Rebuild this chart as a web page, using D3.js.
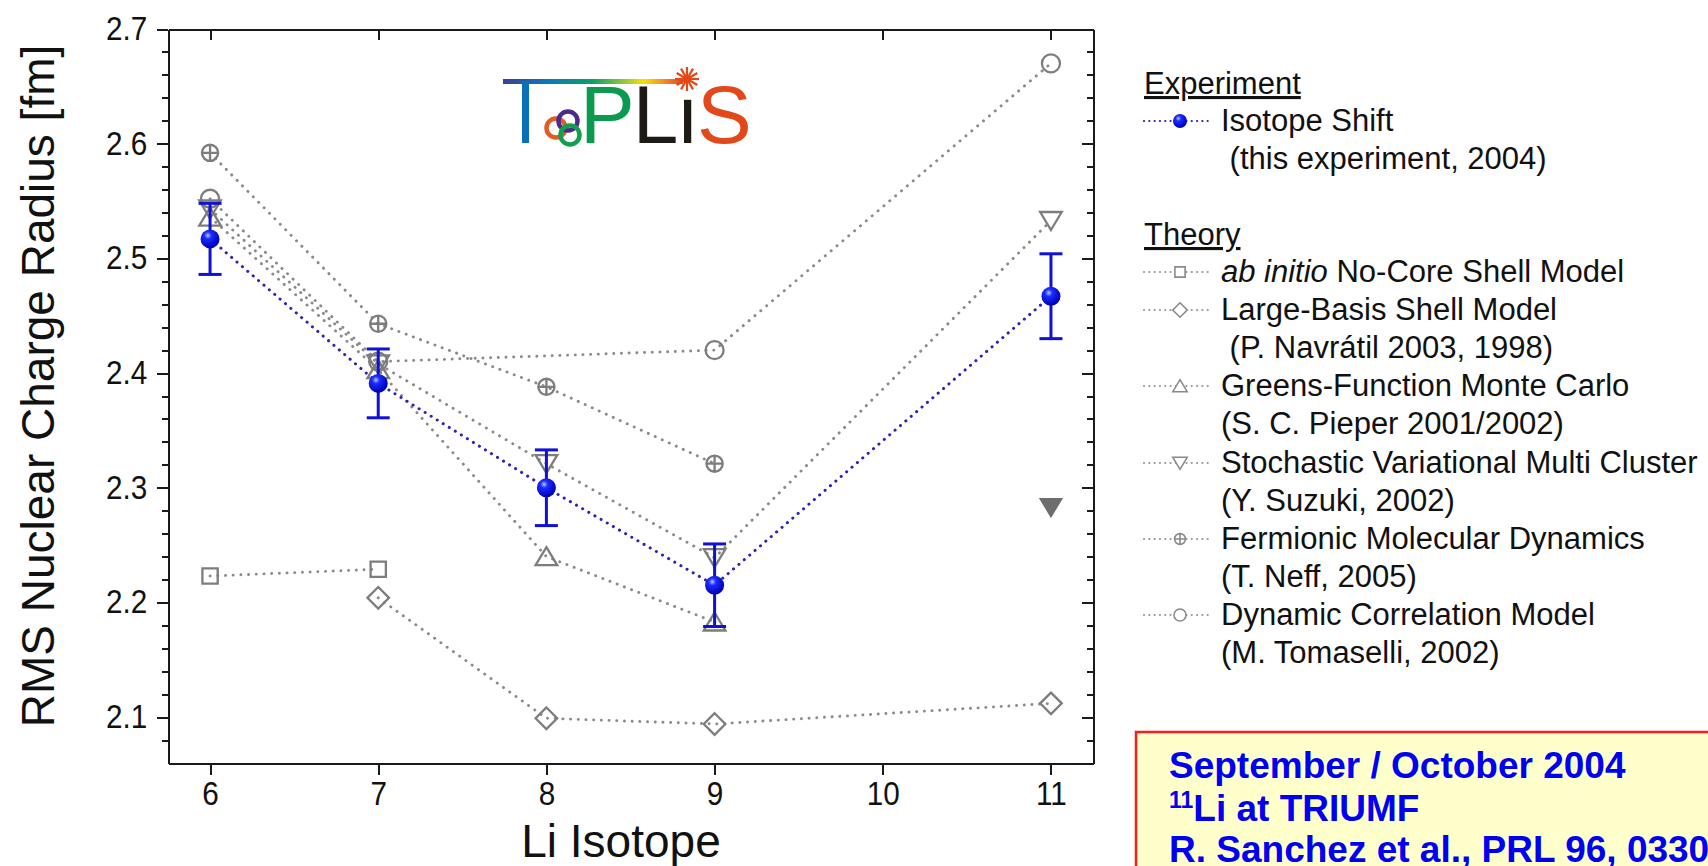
<!DOCTYPE html>
<html>
<head>
    <title>Li Isotope Charge Radii</title>
    <meta charset="UTF-8">
    <script src="https://d3js.org/d3.v7.min.js"></script>
    <style>
        body {
            margin: 0;
            background: #fff;
            font-family: "Liberation Sans", Arial, sans-serif;
        }
        .axis path, .axis line {
            fill: none;
            stroke: #1a1a1a;
            stroke-width: 2;
            shape-rendering: crispEdges;
        }
        .axis text {
            font-family: "Liberation Sans", Arial, sans-serif;
            font-size: 33px;
            fill: #111;
        }
        .legend text {
            font-size: 31px;
            fill: #111;
        }
    </style>
</head>
<body>
    <div id="chart"></div>

    <script type="text/javascript">
        // axis ticks
        const isotopeTicks = [6, 7, 8, 9, 10, 11];
        const radiusTicks = [2.1, 2.2, 2.3, 2.4, 2.5, 2.6, 2.7];

        // experiment: isotope shift (this experiment, 2004)
        const expIsotope = [6, 7, 8, 9, 11];
        const expRadius = [2.517, 2.391, 2.300, 2.215, 2.467];
        const expError = [0.031, 0.030, 0.033, 0.036, 0.037];

        // theory curves
        const ncsmIsotope = [6, 7];
        const ncsmRadius = [2.223, 2.229];

        const lbsmIsotope = [7, 8, 9, 11];
        const lbsmRadius = [2.204, 2.099, 2.094, 2.112];

        const gfmcIsotope = [6, 7, 8, 9];
        const gfmcRadius = [2.536, 2.403, 2.240, 2.183];

        const svmcIsotope = [6, 7, 8, 9, 11];
        const svmcRadius = [2.543, 2.408, 2.321, 2.239, 2.533];

        // extra SVMC value for 11Li (filled, no line)
        const svmcExtraIsotope = [11];
        const svmcExtraRadius = [2.283];

        const fmdIsotope = [6, 7, 8, 9];
        const fmdRadius = [2.592, 2.443, 2.388, 2.321];

        const dcmIsotope = [6, 7, 9, 11];
        const dcmRadius = [2.552, 2.410, 2.420, 2.670];

        // legend texts
        const theoryNames = [
            ["ab initio", " No-Core Shell Model"],
            ["", "Large-Basis Shell Model"],
            ["", "Greens-Function Monte Carlo"],
            ["", "Stochastic Variational Multi Cluster"],
            ["", "Fermionic Molecular Dynamics"],
            ["", "Dynamic Correlation Model"]
        ];
        const theoryRefs = [
            null,
            " (P. Navrátil 2003, 1998)",
            "(S. C. Pieper 2001/2002)",
            "(Y. Suzuki, 2002)",
            "(T. Neff, 2005)",
            "(M. Tomaselli, 2002)"
        ];
        const theorySymbols = ["square", "diamond", "up", "down", "cplus", "circle"];

        const noteLines = ["September / October 2004", "Li at TRIUMF", "R. Sanchez et al., PRL 96, 033002 (2006)"];

        const grey = "#7d7d7d";
        const squeeze = 0.9; // tick labels in the original are a bit narrow

        // build a marker path centred on 0,0
        function symbolPath(type, s) {
            if (type === "square") {
                return `M${-s * 0.85},${-s * 0.85}h${s * 1.7}v${s * 1.7}h${-s * 1.7}Z`;
            }
            if (type === "diamond") {
                const d = s * 1.2;
                return `M0,${-d}L${d},0L0,${d}L${-d},0Z`;
            }
            if (type === "up") {
                return `M0,${-s * 1.05}L${s * 1.2},${s * 0.95}L${-s * 1.2},${s * 0.95}Z`;
            }
            if (type === "down") {
                return `M0,${s * 1.05}L${s * 1.2},${-s * 0.95}L${-s * 1.2},${-s * 0.95}Z`;
            }
            const r = type === "cplus" ? s * 0.9 : s;
            let p = `M${r},0A${r},${r} 0 1,1 ${-r},0A${r},${r} 0 1,1 ${r},0Z`;
            if (type === "cplus") {
                p += `M${-r},0H${r}M0,${-r}V${r}`;
            }
            return p;
        }

        function drawChart() {
            const W = 1708, H = 866;
            const margin = { top: 29, left: 168 };
            const width = 925;
            const height = 734;

            const svg = d3.select("#chart")
                .append("svg")
                .attr("width", W)
                .attr("height", H)
                .style("display", "block");

            const defs = svg.append("defs");
            const ball = defs.append("radialGradient")
                .attr("id", "ball")
                .attr("cx", "38%").attr("cy", "32%").attr("r", "65%");
            ball.append("stop").attr("offset", "0%").attr("stop-color", "#b8c4ff");
            ball.append("stop").attr("offset", "30%").attr("stop-color", "#1a2cff");
            ball.append("stop").attr("offset", "100%").attr("stop-color", "#0000b8");

            const rainbow = defs.append("linearGradient").attr("id", "rainbow");
            [["0%", "#3b3f96"], ["25%", "#0a78bd"], ["50%", "#0aa266"], ["68%", "#9cc83a"],
             ["78%", "#f2e400"], ["90%", "#f08a28"], ["100%", "#e2481a"]].forEach(s => {
                rainbow.append("stop").attr("offset", s[0]).attr("stop-color", s[1]);
            });

            // hard colour steps so the logo word can stay one text
            const letters = defs.append("linearGradient").attr("id", "letters")
                .attr("gradientUnits", "userSpaceOnUse")
                .attr("x1", 580).attr("x2", 760).attr("y1", 0).attr("y2", 0);
            [[0, "#0a9a50"], [0.30, "#0a9a50"], [0.30, "#1e1a16"], [0.65, "#1e1a16"], [0.65, "#e2481a"], [1, "#e2481a"]].forEach(s => {
                letters.append("stop").attr("offset", s[0]).attr("stop-color", s[1]);
            });

            const g = svg.append("g")
                .attr("transform", `translate(${margin.left},${margin.top})`);

            const x = d3.scaleLinear().domain([5.75, 11.25]).range([0, width]);
            const y = d3.scaleLinear().domain([2.06, 2.7]).range([height, 0]);

            const minorTicks = d3.range(2.08, 2.70, 0.02).filter(v => Math.abs(v * 10 - Math.round(v * 10)) > 0.01);

            // axes: bottom and left outward, top and right inward
            g.append("g").attr("class", "axis")
                .attr("transform", `translate(0,${height})`)
                .call(d3.axisBottom(x).tickValues(isotopeTicks).tickSize(12).tickSizeOuter(0).tickPadding(7).tickFormat(d3.format("d")))
                .selectAll("text").attr("transform", `scale(${squeeze},1)`);

            g.append("g").attr("class", "axis")
                .call(d3.axisTop(x).tickValues(isotopeTicks).tickSize(-11).tickSizeOuter(0).tickFormat(""));

            g.append("g").attr("class", "axis")
                .call(d3.axisLeft(y).tickValues(radiusTicks).tickSize(11).tickSizeOuter(0).tickPadding(12).tickFormat(d3.format(".1f")))
                .selectAll("text").attr("transform", `scale(${squeeze},1)`);

            g.append("g").attr("class", "axis")
                .call(d3.axisLeft(y).tickValues(minorTicks).tickSize(6).tickFormat(""))
                .select(".domain").remove();

            g.append("g").attr("class", "axis")
                .attr("transform", `translate(${width},0)`)
                .call(d3.axisRight(y).tickValues(radiusTicks).tickSize(-11).tickSizeOuter(0).tickFormat(""));

            g.append("g").attr("class", "axis")
                .attr("transform", `translate(${width},0)`)
                .call(d3.axisRight(y).tickValues(minorTicks).tickSize(-6).tickFormat(""))
                .select(".domain").remove();

            // axis titles
            svg.append("text")
                .attr("transform", "translate(54,386) rotate(-90)")
                .attr("text-anchor", "middle")
                .style("font-size", "46px")
                .style("fill", "#111")
                .text("RMS Nuclear Charge Radius [fm]");

            svg.append("text")
                .attr("x", 621)
                .attr("y", 857)
                .attr("text-anchor", "middle")
                .style("font-size", "46px")
                .style("fill", "#111")
                .text("Li Isotope");

            // logo
            const logo = svg.append("g").attr("class", "logo");
            logo.append("rect").attr("x", 503).attr("y", 79).attr("width", 180).attr("height", 5).attr("fill", "url(#rainbow)");
            logo.append("rect").attr("x", 522).attr("y", 81).attr("width", 7).attr("height", 62).attr("fill", "#0a70b4");
            [["#e45a22", 556, 128], ["#4b2c8c", 568, 121], ["#12a04e", 570, 135]].forEach(c => {
                logo.append("circle").attr("cx", c[1]).attr("cy", c[2]).attr("r", 9.5)
                    .attr("fill", "none").attr("stroke", c[0]).attr("stroke-width", 4.5);
            });
            logo.append("circle").attr("cx", 687).attr("cy", 79).attr("r", 4).attr("fill", "#e2481a");
            d3.range(0, 360, 30).forEach(a => {
                const t = a * Math.PI / 180;
                logo.append("line")
                    .attr("x1", 687).attr("y1", 79)
                    .attr("x2", 687 + 12 * Math.cos(t)).attr("y2", 79 + 12 * Math.sin(t))
                    .attr("stroke", "#e2481a").attr("stroke-width", 2.2);
            });
            logo.append("text")
                .attr("x", 580).attr("y", 143)
                .style("font-size", "82px")
                .style("letter-spacing", "-2px")
                .attr("fill", "url(#letters)")
                .text("PL\u0131S");

            // theory series
            const theory = [
                { xs: ncsmIsotope, ys: ncsmRadius, sym: "square" },
                { xs: lbsmIsotope, ys: lbsmRadius, sym: "diamond" },
                { xs: gfmcIsotope, ys: gfmcRadius, sym: "up" },
                { xs: svmcIsotope, ys: svmcRadius, sym: "down" },
                { xs: fmdIsotope, ys: fmdRadius, sym: "cplus" },
                { xs: dcmIsotope, ys: dcmRadius, sym: "circle" }
            ];

            const line = d3.line().x(d => x(d[0])).y(d => y(d[1]));

            theory.forEach(s => {
                const pts = s.xs.map((v, i) => [v, s.ys[i]]);
                g.append("path")
                    .datum(pts)
                    .attr("d", line)
                    .attr("fill", "none")
                    .attr("stroke", "#8a8a8a")
                    .attr("stroke-width", 2.9)
                    .attr("stroke-linecap", "round")
                    .attr("stroke-dasharray", "0.1 7.6");
            });

            // experiment line
            const expPts = expIsotope.map((v, i) => [v, expRadius[i], expError[i]]);
            g.append("path")
                .datum(expPts)
                .attr("d", line)
                .attr("fill", "none")
                .attr("stroke", "#2a24b0")
                .attr("stroke-width", 3)
                .attr("stroke-linecap", "round")
                .attr("stroke-dasharray", "0.1 7");

            theory.forEach(s => {
                g.selectAll(null)
                    .data(s.xs.map((v, i) => [v, s.ys[i]]))
                    .enter().append("path")
                    .attr("transform", d => `translate(${x(d[0])},${y(d[1])})`)
                    .attr("d", symbolPath(s.sym, 9))
                    .attr("fill", "none")
                    .attr("stroke", grey)
                    .attr("stroke-width", 2.3);
            });

            g.selectAll(null)
                .data(svmcExtraIsotope.map((v, i) => [v, svmcExtraRadius[i]]))
                .enter().append("path")
                .attr("transform", d => `translate(${x(d[0])},${y(d[1])})`)
                .attr("d", symbolPath("down", 9))
                .attr("fill", "#6e6e6e")
                .attr("stroke", "#6e6e6e")
                .attr("stroke-width", 1.5);

            // error bars
            const bars = g.selectAll(".err").data(expPts).enter().append("g").attr("class", "err")
                .attr("stroke", "#0f10d8").attr("stroke-width", 3);
            bars.append("line")
                .attr("x1", d => x(d[0])).attr("x2", d => x(d[0]))
                .attr("y1", d => y(d[1] - d[2])).attr("y2", d => y(d[1] + d[2]));
            bars.append("line")
                .attr("x1", d => x(d[0]) - 11.5).attr("x2", d => x(d[0]) + 11.5)
                .attr("y1", d => y(d[1] + d[2])).attr("y2", d => y(d[1] + d[2]));
            bars.append("line")
                .attr("x1", d => x(d[0]) - 11.5).attr("x2", d => x(d[0]) + 11.5)
                .attr("y1", d => y(d[1] - d[2])).attr("y2", d => y(d[1] - d[2]));

            g.selectAll(".ball").data(expPts).enter().append("circle")
                .attr("cx", d => x(d[0]))
                .attr("cy", d => y(d[1]))
                .attr("r", 9.5)
                .attr("fill", "url(#ball)");

            // legend
            const lg = svg.append("g").attr("class", "legend");
            const lx = 1144, tx = 1221;

            function legendKey(cy, sym, blue) {
                lg.append("line")
                    .attr("x1", lx).attr("x2", lx + 68).attr("y1", cy).attr("y2", cy)
                    .attr("stroke", blue ? "#2a24b0" : "#9a9a9a")
                    .attr("stroke-width", 2.2)
                    .attr("stroke-linecap", "round")
                    .attr("stroke-dasharray", "0.1 5.2");
                if (blue) {
                    lg.append("circle").attr("cx", lx + 36).attr("cy", cy).attr("r", 7).attr("fill", "url(#ball)");
                } else {
                    lg.append("path")
                        .attr("transform", `translate(${lx + 36},${cy})`)
                        .attr("d", symbolPath(sym, 6))
                        .attr("fill", "#fff")
                        .attr("stroke", "#8a8a8a")
                        .attr("stroke-width", 1.6);
                }
            }

            lg.append("text").attr("x", lx).attr("y", 94).style("text-decoration", "underline").text("Experiment");
            legendKey(121, null, true);
            lg.append("text").attr("x", tx).attr("y", 131).text("Isotope Shift");
            lg.append("text").attr("x", tx).attr("y", 169).attr("xml:space", "preserve").text(" (this experiment, 2004)");

            lg.append("text").attr("x", lx).attr("y", 245).style("text-decoration", "underline").text("Theory");

            const rowY = [282, 320, 396, 473, 549, 625];
            theoryNames.forEach((n, i) => {
                legendKey(rowY[i] - 10, theorySymbols[i], false);
                const t = lg.append("text").attr("x", tx).attr("y", rowY[i]).attr("xml:space", "preserve");
                if (n[0]) t.append("tspan").style("font-style", "italic").text(n[0]);
                t.append("tspan").text(n[1]);
                if (theoryRefs[i]) {
                    lg.append("text").attr("x", tx).attr("y", rowY[i] + 38).attr("xml:space", "preserve").text(theoryRefs[i]);
                }
            });

            // note box
            const note = svg.append("g").attr("class", "note");
            note.append("rect")
                .attr("x", 1136).attr("y", 732)
                .attr("width", 640).attr("height", 200)
                .attr("fill", "#ffffcc")
                .attr("stroke", "#ff1a1a")
                .attr("stroke-width", 2.5);
            const noteY = [778, 821, 862];
            noteLines.forEach((s, i) => {
                const t = note.append("text")
                    .attr("x", 1169).attr("y", noteY[i])
                    .style("font-size", "37px")
                    .style("font-weight", "bold")
                    .style("fill", "#0000f2");
                if (i === 1) {
                    t.append("tspan").style("font-size", "23px").attr("dy", -13).text("11");
                    t.append("tspan").attr("dy", 13).text(s);
                } else {
                    t.text(s);
                }
            });
        }

        drawChart();
    </script>
</body>
</html>
